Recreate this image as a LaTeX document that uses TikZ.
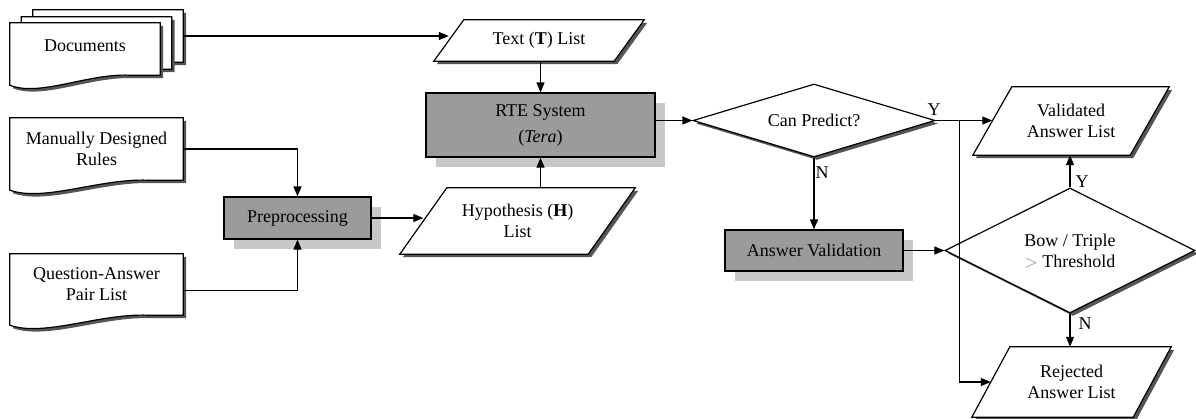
\documentclass[tikz,border=0pt]{standalone}
\usepackage{fontspec}
\setmainfont{Liberation Serif}
\usetikzlibrary{shapes.geometric,calc,arrows.meta}
\pgfdeclarelayer{background}
\pgfsetlayers{background,main}

\definecolor{boxgray}{RGB}{155,155,155}
\definecolor{softshadow}{RGB}{200,200,200}
\definecolor{hardshadow}{RGB}{85,85,85}

% document outline around a node: #1 name, #2 width
\newcommand{\drawdoc}[2]{%
  \draw[outline, hardshadowed]
    (#1.north west) -- (#1.north east) -- (#1.south east)
    -- ($(#1.south west)+(0.8*#2,0)$)
    .. controls ($(#1.south west)+(0.52*#2,-2)$) and ($(#1.south west)+(0.2*#2,22)$)
    .. ($(#1.south west)+(0,10)$) -- cycle;}

% parallelogram around a node: #1 name, #2 half of the horizontal slant
\newcommand{\drawpara}[2]{%
  \draw[outline, hardshadowed]
    ($(#1.north west)+(#2,0)$) -- ($(#1.north east)+(#2,0)$)
    -- ($(#1.south east)-(#2,0)$) -- ($(#1.south west)-(#2,0)$) -- cycle;}

\tikzset{
  outline/.style={draw=black, line width=1.2pt, fill=white},
  hardshadowed/.style={preaction={fill=hardshadow, draw=none,
      transform canvas={shift={(3pt,-3pt)}}}},
  softshadowed/.style={preaction={fill=softshadow, draw=none,
      transform canvas={shift={(10pt,-10pt)}}}},
  textnode/.style={rectangle, draw=none, inner sep=0pt, align=center},
  graybox/.style={rectangle, draw=black, line width=1.2pt, fill=boxgray,
      inner sep=0pt, align=center, softshadowed},
  decision/.style={diamond, draw=black, line width=1.2pt, fill=white,
      inner sep=0pt, align=center, hardshadowed},
  branchlabel/.style={inner sep=0pt},
  arr/.style={draw=black, line width=1.2pt, -{Triangle[length=10pt,width=8pt]}},
}

\begin{document}
\begin{tikzpicture}[x=1pt, y=-1pt, font=\fontsize{18}{21}\selectfont]
\useasboundingbox (0,0) rectangle (1196,418);

% ---- source documents
\node[textnode, minimum width=150, minimum height=52] (docsC) at (108,36) {};
\node[textnode, minimum width=150, minimum height=52] (docsB) at (96.5,43) {};
\node[textnode, minimum width=150, minimum height=52] (docs) at (85,49) {\raisebox{6pt}{Documents}};
\node[textnode, minimum width=173, minimum height=62] (mdr) at (96.5,149) {Manually Designed\\Rules};
\node[textnode, minimum width=173, minimum height=61] (qa) at (96.5,284.5) {Question-Answer\\Pair List};

% ---- data lists
\node[textnode, minimum width=180, minimum height=41] (tl) at (539,40.5) {Text (\textbf{T}) List};
\node[textnode, minimum width=188, minimum height=66] (hyp) at (517.5,221) {Hypothesis (\textbf{H})\\List};
\node[textnode, minimum width=157, minimum height=68] (val) at (1071,121) {Validated\\Answer List};
\node[textnode, minimum width=161, minimum height=70] (rej) at (1071.5,382) {Rejected\\Answer List};

% ---- processes
\node[graybox, minimum width=229, minimum height=64] (rte) at (540.5,125) {RTE System\\[5pt](\textit{Tera})};
\node[graybox, minimum width=147, minimum height=42] (prep) at (297.5,218) {Preprocessing};
\node[graybox, minimum width=178, minimum height=41] (av) at (814,250.5) {Answer Validation};

% ---- decisions
\node[decision, aspect=3.3, minimum width=242, minimum height=73] (can) at (814,120.5) {Can Predict?};
\node[decision, aspect=2, minimum width=250, minimum height=125] (bow) at (1070,250.5)
  {Bow / Triple\\{\color{gray}$>$}\ Threshold};

% ---- outlines behind the texts
\begin{pgfonlayer}{background}
  \drawdoc{docsC}{150}
  \drawdoc{docsB}{150}
  \drawdoc{docs}{150}
  \drawdoc{mdr}{173}
  \drawdoc{qa}{173}
  \drawpara{tl}{15}
  \drawpara{hyp}{23.5}
  \drawpara{val}{19.5}
  \drawpara{rej}{19}
\end{pgfonlayer}

% ---- connectors
\draw[arr] (docsC.east) -- (docsC.east -| tl.west);
\draw[arr] (rte.north |- tl.south) -- (rte.north);
\draw[arr] (rte.south |- hyp.north) -- (rte.south);
\draw[arr] (mdr.east) -| (prep.north);
\draw[arr] ($(qa.east)+(0,6)$) -| (prep.south);
\draw[arr] (prep.east) -- (prep.east -| hyp.west);
\draw[arr] (rte.east |- can.west) -- (can.west);
\draw[arr] (can.east) -- (can.east -| val.west);
\coordinate (split) at ($(can.east)+(24,0)$);
\draw[arr] (split) |- (rej.west);
\draw[arr] (can.south) -- (av.north);
\draw[arr] (av.east) -- (bow.west);
\draw[arr] (bow.north) -- (bow.north |- val.south);
\draw[arr] (bow.south) -- (bow.south |- rej.north);

% ---- branch labels
\node[branchlabel] (canY) at (934,110) {Y};
\node[branchlabel] (canN) at (822,173) {N};
\node[branchlabel] (bowY) at (1082,182) {Y};
\node[branchlabel] (bowN) at (1085,324) {N};
\end{tikzpicture}
\end{document}
